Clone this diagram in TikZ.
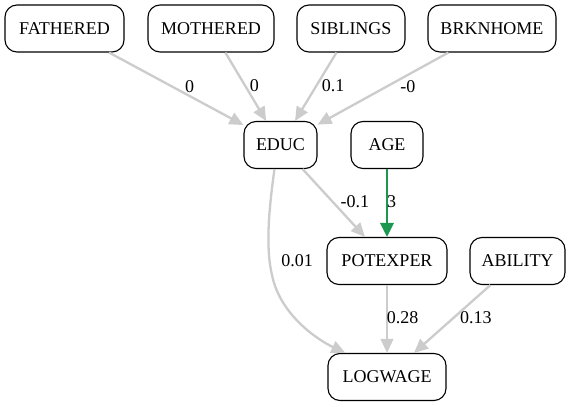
\documentclass[tikz,border=0pt]{standalone}
\usepackage{fontspec}
\setmainfont{Liberation Serif}
\newfontfamily\diagfont{Liberation Serif}
\usetikzlibrary{arrows.meta}
\definecolor{edgegray}{RGB}{204,204,204}
\definecolor{edgegreen}{RGB}{26,152,80}
\begin{document}
\begin{tikzpicture}[x=1pt,y=-1pt,
  var/.style={draw=black, line width=1.1pt, rounded corners=12pt, fill=white,
    minimum height=47pt, inner sep=0pt, font=\diagfont\fontsize{18}{21}\selectfont},
  edge/.style={draw=edgegray, line width=2.3pt,
    -{Triangle[length=14pt,width=12.5pt]}},
  strong/.style={draw=edgegreen, line width=2.8pt,
    -{Triangle[length=14pt,width=13pt]}},
  lbl/.style={font=\diagfont\fontsize{18}{21}\selectfont, inner sep=0pt}]
\useasboundingbox (0,0) rectangle (571,407);
\fill[white] (0,0) rectangle (571,407);

% variables
\node[var, minimum width=119pt] (fathered) at (64.5,28.5) {FATHERED};
\node[var, minimum width=126pt] (mothered) at (211,28.5) {MOTHERED};
\node[var, minimum width=108pt] (siblings) at (351,28.5) {SIBLINGS};
\node[var, minimum width=128pt] (brknhome) at (492,28.5) {BRKNHOME};
\node[var, minimum width=73pt] (educ) at (280.5,145) {EDUC};
\node[var, minimum width=72pt] (age) at (387,145) {AGE};
\node[var, minimum width=120pt] (potexper) at (387,261) {POTEXPER};
\node[var, minimum width=95pt] (ability) at (517.5,261) {ABILITY};
\node[var, minimum width=118pt] (logwage) at (387,377) {LOGWAGE};

% effects on education
\draw[edge] (fathered) -- node[lbl, pos=.466, xshift=18pt] {0} (educ);
\draw[edge] (mothered) -- node[lbl, pos=.49, xshift=9pt] {0} (educ);
\draw[edge] (siblings) -- node[lbl, pos=.49, xshift=17pt] {0.1} (educ);
\draw[edge] (brknhome) -- node[lbl, pos=.466, xshift=20.5pt] {-0} (educ);

% effects on potential experience
\draw[edge] (educ) -- node[lbl, pos=.485, xshift=22pt] {-0.1} (potexper);
\draw[strong] (age) -- node[lbl, pos=.485, xshift=4.5pt] {3} (potexper);

% effects on log wage
\draw[edge] (educ.-104) .. controls (268,215) and (266,250) ..
  node[lbl, pos=1, xshift=25pt, yshift=14pt] {0.01} (272,275)
  .. controls (280,315) and (318,340) .. (logwage.150);
\draw[edge] (potexper) -- node[lbl, pos=.485, xshift=15.5pt] {0.28} (logwage);
\draw[edge] (ability) -- node[lbl, pos=.485, xshift=22.6pt] {0.13} (logwage);
\end{tikzpicture}
\end{document}
